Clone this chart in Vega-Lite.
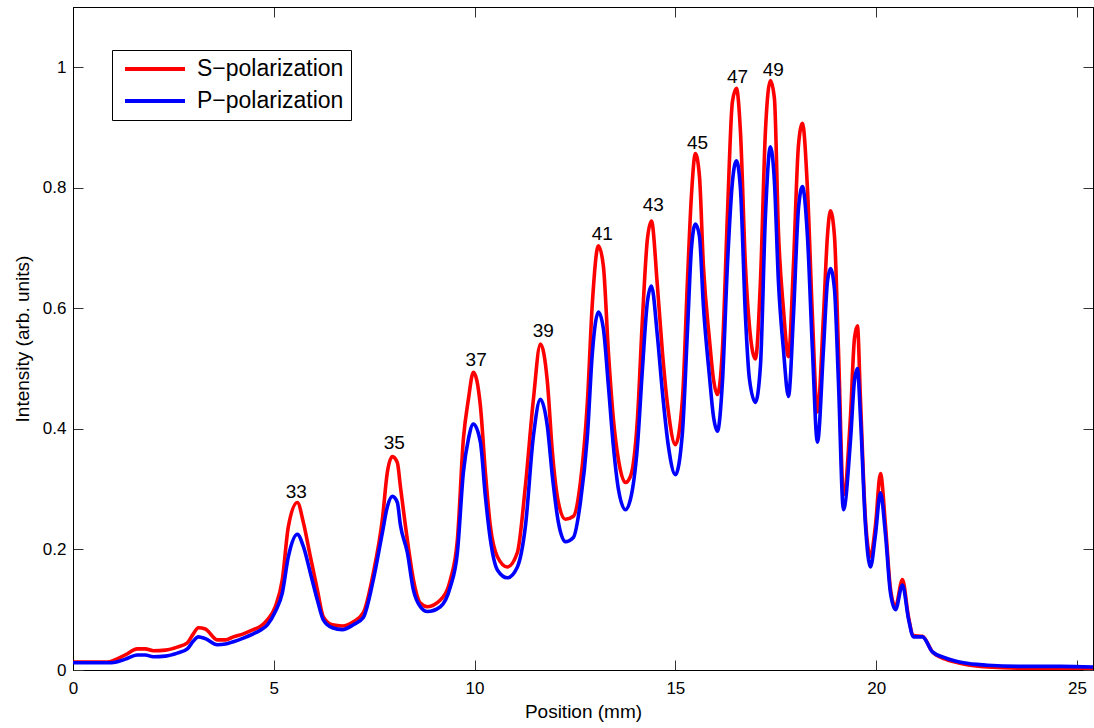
{
  "$schema": "https://vega.github.io/schema/vega-lite/v6.json",
  "width": 1020,
  "height": 663,
  "autosize": "none",
  "padding": {"left": 73, "top": 7, "right": 1, "bottom": 58},
  "background": "white",
  "config": {
    "font": "Liberation Sans",
    "view": {"stroke": "black", "strokeWidth": 1},
    "axis": {
      "grid": false,
      "domainColor": "black",
      "domainWidth": 1,
      "tickColor": "#333333",
      "tickSize": -10,
      "tickWidth": 1,
      "labelFont": "Liberation Sans",
      "labelFontSize": 17,
      "labelColor": "black",
      "labelFlush": false,
      "titleFont": "Liberation Sans",
      "titleFontSize": 19,
      "titleFontWeight": "normal",
      "titleColor": "black"
    }
  },
  "datasets": {
    "curves": [
      {"x": 0, "S−polarization": 0.013, "P−polarization": 0.012},
      {"x": 0.43, "S−polarization": 0.013, "P−polarization": 0.012},
      {"x": 0.854, "S−polarization": 0.013, "P−polarization": 0.012},
      {"x": 1.054, "S−polarization": 0.017, "P−polarization": 0.013},
      {"x": 1.303, "S−polarization": 0.025, "P−polarization": 0.018},
      {"x": 1.601, "S−polarization": 0.035, "P−polarization": 0.025},
      {"x": 1.801, "S−polarization": 0.035, "P−polarization": 0.025},
      {"x": 2.0, "S−polarization": 0.032, "P−polarization": 0.022},
      {"x": 2.299, "S−polarization": 0.033, "P−polarization": 0.023},
      {"x": 2.598, "S−polarization": 0.038, "P−polarization": 0.028},
      {"x": 2.847, "S−polarization": 0.045, "P−polarization": 0.035},
      {"x": 2.996, "S−polarization": 0.06, "P−polarization": 0.048},
      {"x": 3.121, "S−polarization": 0.07, "P−polarization": 0.055},
      {"x": 3.295, "S−polarization": 0.068, "P−polarization": 0.052},
      {"x": 3.594, "S−polarization": 0.05, "P−polarization": 0.042},
      {"x": 3.795, "S−polarization": 0.05, "P−polarization": 0.043},
      {"x": 3.993, "S−polarization": 0.055, "P−polarization": 0.047},
      {"x": 4.242, "S−polarization": 0.06, "P−polarization": 0.053},
      {"x": 4.491, "S−polarization": 0.067, "P−polarization": 0.06},
      {"x": 4.665, "S−polarization": 0.072, "P−polarization": 0.066},
      {"x": 4.84, "S−polarization": 0.083, "P−polarization": 0.075},
      {"x": 5.039, "S−polarization": 0.105, "P−polarization": 0.097},
      {"x": 5.213, "S−polarization": 0.15, "P−polarization": 0.128},
      {"x": 5.363, "S−polarization": 0.238, "P−polarization": 0.188},
      {"x": 5.587, "S−polarization": 0.278, "P−polarization": 0.225},
      {"x": 5.736, "S−polarization": 0.245, "P−polarization": 0.205},
      {"x": 5.911, "S−polarization": 0.188, "P−polarization": 0.161},
      {"x": 6.085, "S−polarization": 0.133, "P−polarization": 0.116},
      {"x": 6.234, "S−polarization": 0.088, "P−polarization": 0.083},
      {"x": 6.458, "S−polarization": 0.075, "P−polarization": 0.07},
      {"x": 6.707, "S−polarization": 0.073, "P−polarization": 0.067},
      {"x": 6.981, "S−polarization": 0.08, "P−polarization": 0.075},
      {"x": 7.23, "S−polarization": 0.095, "P−polarization": 0.087},
      {"x": 7.479, "S−polarization": 0.161, "P−polarization": 0.15},
      {"x": 7.704, "S−polarization": 0.25, "P−polarization": 0.228},
      {"x": 7.828, "S−polarization": 0.328, "P−polarization": 0.271},
      {"x": 7.953, "S−polarization": 0.354, "P−polarization": 0.288},
      {"x": 8.077, "S−polarization": 0.344, "P−polarization": 0.278},
      {"x": 8.152, "S−polarization": 0.305, "P−polarization": 0.241},
      {"x": 8.326, "S−polarization": 0.216, "P−polarization": 0.195},
      {"x": 8.476, "S−polarization": 0.15, "P−polarization": 0.133},
      {"x": 8.65, "S−polarization": 0.111, "P−polarization": 0.105},
      {"x": 8.824, "S−polarization": 0.105, "P−polarization": 0.097},
      {"x": 9.148, "S−polarization": 0.116, "P−polarization": 0.105},
      {"x": 9.397, "S−polarization": 0.15, "P−polarization": 0.138},
      {"x": 9.572, "S−polarization": 0.216, "P−polarization": 0.195},
      {"x": 9.721, "S−polarization": 0.383, "P−polarization": 0.328},
      {"x": 9.846, "S−polarization": 0.449, "P−polarization": 0.383},
      {"x": 9.97, "S−polarization": 0.494, "P−polarization": 0.408},
      {"x": 10.145, "S−polarization": 0.438, "P−polarization": 0.378},
      {"x": 10.269, "S−polarization": 0.328, "P−polarization": 0.288},
      {"x": 10.394, "S−polarization": 0.238, "P−polarization": 0.216},
      {"x": 10.568, "S−polarization": 0.188, "P−polarization": 0.166},
      {"x": 10.817, "S−polarization": 0.171, "P−polarization": 0.153},
      {"x": 11.066, "S−polarization": 0.195, "P−polarization": 0.171},
      {"x": 11.265, "S−polarization": 0.305, "P−polarization": 0.238},
      {"x": 11.465, "S−polarization": 0.449, "P−polarization": 0.388},
      {"x": 11.639, "S−polarization": 0.541, "P−polarization": 0.449},
      {"x": 11.813, "S−polarization": 0.478, "P−polarization": 0.404},
      {"x": 11.938, "S−polarization": 0.361, "P−polarization": 0.321},
      {"x": 12.087, "S−polarization": 0.278, "P−polarization": 0.245},
      {"x": 12.262, "S−polarization": 0.25, "P−polarization": 0.213},
      {"x": 12.461, "S−polarization": 0.255, "P−polarization": 0.22},
      {"x": 12.635, "S−polarization": 0.311, "P−polarization": 0.278},
      {"x": 12.809, "S−polarization": 0.444, "P−polarization": 0.388},
      {"x": 12.934, "S−polarization": 0.61, "P−polarization": 0.527},
      {"x": 13.084, "S−polarization": 0.704, "P−polarization": 0.594},
      {"x": 13.208, "S−polarization": 0.67, "P−polarization": 0.566},
      {"x": 13.333, "S−polarization": 0.527, "P−polarization": 0.471},
      {"x": 13.457, "S−polarization": 0.416, "P−polarization": 0.371},
      {"x": 13.582, "S−polarization": 0.349, "P−polarization": 0.3},
      {"x": 13.756, "S−polarization": 0.311, "P−polarization": 0.266},
      {"x": 13.881, "S−polarization": 0.321, "P−polarization": 0.283},
      {"x": 14.055, "S−polarization": 0.416, "P−polarization": 0.371},
      {"x": 14.18, "S−polarization": 0.582, "P−polarization": 0.499},
      {"x": 14.304, "S−polarization": 0.715, "P−polarization": 0.611},
      {"x": 14.404, "S−polarization": 0.745, "P−polarization": 0.637},
      {"x": 14.553, "S−polarization": 0.637, "P−polarization": 0.554},
      {"x": 14.678, "S−polarization": 0.527, "P−polarization": 0.461},
      {"x": 14.827, "S−polarization": 0.428, "P−polarization": 0.371},
      {"x": 15.001, "S−polarization": 0.374, "P−polarization": 0.324},
      {"x": 15.176, "S−polarization": 0.449, "P−polarization": 0.394},
      {"x": 15.3, "S−polarization": 0.644, "P−polarization": 0.561},
      {"x": 15.4, "S−polarization": 0.787, "P−polarization": 0.699},
      {"x": 15.499, "S−polarization": 0.857, "P−polarization": 0.74},
      {"x": 15.599, "S−polarization": 0.82, "P−polarization": 0.72},
      {"x": 15.698, "S−polarization": 0.671, "P−polarization": 0.604},
      {"x": 15.848, "S−polarization": 0.549, "P−polarization": 0.488},
      {"x": 15.948, "S−polarization": 0.483, "P−polarization": 0.421},
      {"x": 16.047, "S−polarization": 0.457, "P−polarization": 0.396},
      {"x": 16.172, "S−polarization": 0.532, "P−polarization": 0.478},
      {"x": 16.296, "S−polarization": 0.754, "P−polarization": 0.671},
      {"x": 16.421, "S−polarization": 0.943, "P−polarization": 0.81},
      {"x": 16.521, "S−polarization": 0.965, "P−polarization": 0.845},
      {"x": 16.62, "S−polarization": 0.894, "P−polarization": 0.799},
      {"x": 16.745, "S−polarization": 0.671, "P−polarization": 0.587},
      {"x": 16.844, "S−polarization": 0.571, "P−polarization": 0.483},
      {"x": 16.994, "S−polarization": 0.516, "P−polarization": 0.444},
      {"x": 17.118, "S−polarization": 0.644, "P−polarization": 0.504},
      {"x": 17.243, "S−polarization": 0.894, "P−polarization": 0.754},
      {"x": 17.367, "S−polarization": 0.978, "P−polarization": 0.868},
      {"x": 17.467, "S−polarization": 0.948, "P−polarization": 0.81},
      {"x": 17.567, "S−polarization": 0.727, "P−polarization": 0.644},
      {"x": 17.691, "S−polarization": 0.599, "P−polarization": 0.532},
      {"x": 17.816, "S−polarization": 0.52, "P−polarization": 0.454},
      {"x": 17.94, "S−polarization": 0.671, "P−polarization": 0.587},
      {"x": 18.065, "S−polarization": 0.87, "P−polarization": 0.765},
      {"x": 18.164, "S−polarization": 0.907, "P−polarization": 0.802},
      {"x": 18.289, "S−polarization": 0.799, "P−polarization": 0.72},
      {"x": 18.413, "S−polarization": 0.587, "P−polarization": 0.532},
      {"x": 18.538, "S−polarization": 0.428, "P−polarization": 0.378},
      {"x": 18.688, "S−polarization": 0.587, "P−polarization": 0.532},
      {"x": 18.787, "S−polarization": 0.72, "P−polarization": 0.644},
      {"x": 18.862, "S−polarization": 0.762, "P−polarization": 0.666},
      {"x": 18.962, "S−polarization": 0.72, "P−polarization": 0.632},
      {"x": 19.061, "S−polarization": 0.532, "P−polarization": 0.478},
      {"x": 19.186, "S−polarization": 0.291, "P−polarization": 0.266},
      {"x": 19.36, "S−polarization": 0.42, "P−polarization": 0.38},
      {"x": 19.46, "S−polarization": 0.55, "P−polarization": 0.48},
      {"x": 19.534, "S−polarization": 0.571, "P−polarization": 0.5},
      {"x": 19.609, "S−polarization": 0.45, "P−polarization": 0.42},
      {"x": 19.734, "S−polarization": 0.25, "P−polarization": 0.24},
      {"x": 19.858, "S−polarization": 0.188, "P−polarization": 0.171},
      {"x": 19.983, "S−polarization": 0.24, "P−polarization": 0.225},
      {"x": 20.107, "S−polarization": 0.326, "P−polarization": 0.294},
      {"x": 20.232, "S−polarization": 0.24, "P−polarization": 0.225},
      {"x": 20.356, "S−polarization": 0.135, "P−polarization": 0.128},
      {"x": 20.481, "S−polarization": 0.105, "P−polarization": 0.1},
      {"x": 20.655, "S−polarization": 0.15, "P−polarization": 0.141},
      {"x": 20.805, "S−polarization": 0.088, "P−polarization": 0.085},
      {"x": 20.929, "S−polarization": 0.057, "P−polarization": 0.055},
      {"x": 21.153, "S−polarization": 0.056, "P−polarization": 0.055},
      {"x": 21.402, "S−polarization": 0.03, "P−polarization": 0.03},
      {"x": 21.726, "S−polarization": 0.018, "P−polarization": 0.02},
      {"x": 22.174, "S−polarization": 0.01, "P−polarization": 0.012},
      {"x": 22.772, "S−polarization": 0.005, "P−polarization": 0.008},
      {"x": 23.594, "S−polarization": 0.003, "P−polarization": 0.006},
      {"x": 24.59, "S−polarization": 0.003, "P−polarization": 0.006},
      {"x": 25.4, "S−polarization": 0.003, "P−polarization": 0.005}
    ],
    "labels": [
      {"lx": 5.56, "ly": 0.296, "t": "33"},
      {"lx": 8.0, "ly": 0.376, "t": "35"},
      {"lx": 10.04, "ly": 0.514, "t": "37"},
      {"lx": 11.71, "ly": 0.563, "t": "39"},
      {"lx": 13.18, "ly": 0.724, "t": "41"},
      {"lx": 14.45, "ly": 0.771, "t": "43"},
      {"lx": 15.55, "ly": 0.875, "t": "45"},
      {"lx": 16.55, "ly": 0.984, "t": "47"},
      {"lx": 17.44, "ly": 0.996, "t": "49"}
    ]
  },
  "layer": [
    {
      "data": {"name": "curves"},
      "transform": [{"fold": ["S−polarization"], "as": ["series", "value"]}],
      "mark": {"type": "line", "strokeWidth": 3.6, "strokeJoin": "round", "interpolate": "monotone"},
      "encoding": {
        "x": {
          "field": "x", "type": "quantitative",
          "scale": {"domain": [0, 25.4], "nice": false, "zero": false},
          "axis": {"orient": "bottom", "values": [0, 5, 10, 15, 20, 25], "title": "Position (mm)", "labelPadding": 20, "titlePadding": 6}
        },
        "y": {
          "field": "value", "type": "quantitative",
          "scale": {"domain": [0, 1.1], "nice": false, "zero": false},
          "axis": {"orient": "left", "values": [0, 0.2, 0.4, 0.6, 0.8, 1], "format": "~g", "title": "Intensity (arb. units)", "labelPadding": 17, "titlePadding": 10}
        },
        "color": {
          "field": "series", "type": "nominal",
          "scale": {"domain": ["S−polarization", "P−polarization"], "range": ["#ff0000", "#0000ff"]},
          "legend": {
            "orient": "none", "legendX": 39, "legendY": 43, "title": null,
            "symbolType": "M-0.6,0H5.4", "symbolSize": 400, "symbolStrokeWidth": 4,
            "labelFontSize": 23, "labelFont": "Liberation Sans", "labelColor": "black", "labelOffset": 54,
            "rowPadding": 8, "padding": 7, "strokeColor": "black", "fillColor": "white", "cornerRadius": 0
          }
        }
      }
    },
    {
      "data": {"name": "curves"},
      "transform": [{"fold": ["P−polarization"], "as": ["series", "value"]}],
      "mark": {"type": "line", "strokeWidth": 3.6, "strokeJoin": "round", "interpolate": "monotone"},
      "encoding": {
        "x": {"field": "x", "type": "quantitative", "scale": {"domain": [0, 25.4], "nice": false, "zero": false}, "axis": null},
        "y": {"field": "value", "type": "quantitative", "scale": {"domain": [0, 1.1], "nice": false, "zero": false}, "axis": null},
        "color": {"field": "series", "type": "nominal", "scale": {"domain": ["S−polarization", "P−polarization"], "range": ["#ff0000", "#0000ff"]}}
      }
    },
    {
      "data": {"name": "labels"},
      "mark": {"type": "text", "fontSize": 19, "font": "Liberation Sans", "baseline": "middle", "align": "center", "color": "black"},
      "encoding": {
        "x": {
          "field": "lx", "type": "quantitative",
          "scale": {"domain": [0, 25.4], "nice": false, "zero": false},
          "axis": {"orient": "top", "values": [0, 5, 10, 15, 20, 25], "labels": false, "title": null}
        },
        "y": {
          "field": "ly", "type": "quantitative",
          "scale": {"domain": [0, 1.1], "nice": false, "zero": false},
          "axis": {"orient": "right", "values": [0, 0.2, 0.4, 0.6, 0.8, 1], "labels": false, "title": null}
        },
        "text": {"field": "t", "type": "nominal"}
      }
    }
  ],
  "resolve": {"scale": {"x": "independent", "y": "independent"}, "axis": {"x": "independent", "y": "independent"}}
}
